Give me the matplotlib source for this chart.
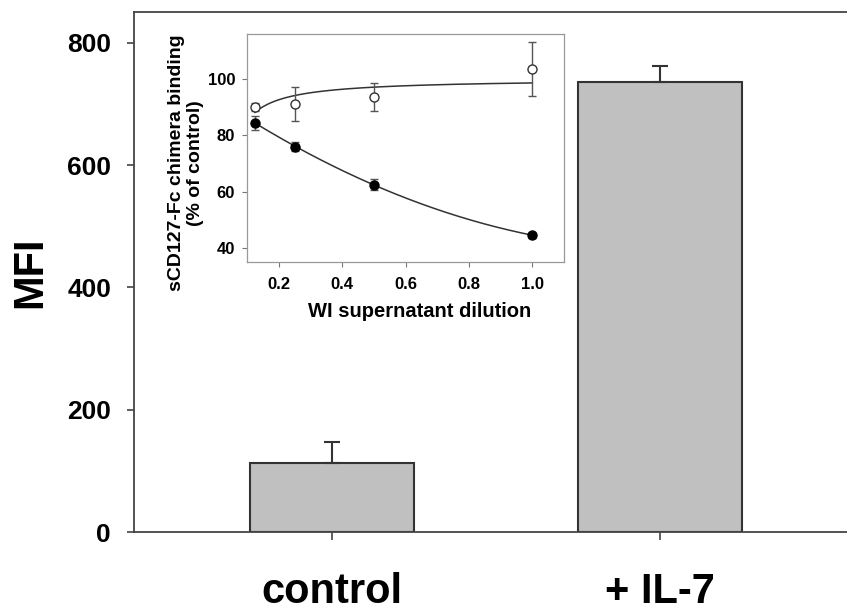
import numpy as np
import matplotlib
matplotlib.use("Agg")
import matplotlib.pyplot as plt

plt.rcParams['font.family'] = ['Liberation Sans', 'DejaVu Sans']
plt.rcParams['font.weight'] = 'bold'

# Main bar data
categories = ["control", "+ IL-7"]
mfi = [113, 736]
mfi_err = [34, 26]

# Inset data
dilution = [0.125, 0.25, 0.5, 1.0]
open_vals = [90.0, 91.0, 93.5, 103.5]
open_err = [1.5, 6.0, 5.0, 9.5]
filled_vals = [84.5, 76.0, 62.5, 44.5]
filled_err = [2.5, 1.5, 2.0, 0.8]

W, H = 847, 605
fig = plt.figure(figsize=(W / 100, H / 100), dpi=100)

# main axes
ax = fig.add_axes([134 / W, (H - 532) / H, (W - 134) / W, (532 - 11.5) / H])
x = np.arange(len(categories))
ax.bar(x, mfi, width=0.5, color='#c0c0c0', edgecolor='#333333', linewidth=1.5, zorder=2)
ax.errorbar(x, mfi, yerr=[np.zeros(len(mfi)), mfi_err], fmt='none', ecolor='#333333',
            elinewidth=1.5, capsize=5.8, capthick=1.5, zorder=3)
ax.set_xlim(-0.604, 1.570)
ax.set_ylim(0, 851.5)
ax.set_yticks([0, 200, 400, 600, 800])
ax.set_xticks(x)
ax.set_xticklabels(categories, fontsize=30, fontweight='bold')
ax.tick_params(axis='x', direction='out', length=5.5, width=1.2, pad=23.5, color='#444444')
ax.tick_params(axis='y', direction='out', length=5, width=1.2, labelsize=19, pad=11.5,
               color='#444444')
for lab in ax.get_yticklabels():
    lab.set_fontweight('bold')
ax.set_ylabel('MFI', fontsize=30, fontweight='bold', labelpad=12)
ax.spines['right'].set_visible(False)
for s in ['left', 'top', 'bottom']:
    ax.spines[s].set_color('#444444')
    ax.spines[s].set_linewidth(1.3)

# inset axes
ins = fig.add_axes([247 / W, (H - 262) / H, (564 - 247) / W, (262 - 34) / H])
d = np.array(dilution)
# fitted curves
po = np.polyfit(1.0 / d, open_vals, 1)
pf = np.polyfit(d, filled_vals, 2)
xs = np.linspace(min(dilution), max(dilution), 200)
ins.plot(xs, np.polyval(po, 1.0 / xs), color='#333333', lw=1.1, zorder=2)
ins.plot(xs, np.polyval(pf, xs), color='#333333', lw=1.1, zorder=2)
ins.errorbar(dilution, open_vals, yerr=open_err, fmt='o', mfc='white', mec='#333333',
             ms=6.5, mew=1.0, ecolor='#555555', elinewidth=1.0, capsize=3, capthick=1.0, zorder=3)
ins.errorbar(dilution, filled_vals, yerr=filled_err, fmt='o', mfc='black', mec='black',
             ms=6.5, mew=1.0, ecolor='#555555', elinewidth=1.0, capsize=3, capthick=1.0, zorder=3)
ins.set_xlim(0.1, 1.1)
ins.set_ylim(35, 116)
ins.set_xticks([0.2, 0.4, 0.6, 0.8, 1.0])
ins.set_yticks([40, 60, 80, 100])
ins.tick_params(direction='out', length=3.5, width=0.8, labelsize=12, color='#777777')
ins.tick_params(axis='x', pad=7)
ins.tick_params(axis='y', pad=5)
for lab in ins.get_xticklabels() + ins.get_yticklabels():
    lab.set_fontweight('bold')
ins.set_xlabel('WI supernatant dilution', fontsize=14.5, fontweight='bold')
ins.xaxis.set_label_coords(0.543, -0.175)
ins.set_ylabel('sCD127-Fc chimera binding\n(% of control)', fontsize=14, fontweight='bold',
               linespacing=1.15)
ins.yaxis.set_label_coords(-0.135, 0.434)
for s in ins.spines.values():
    s.set_color('#999999')
    s.set_linewidth(0.9)

fig.savefig('out.png', dpi=100)
